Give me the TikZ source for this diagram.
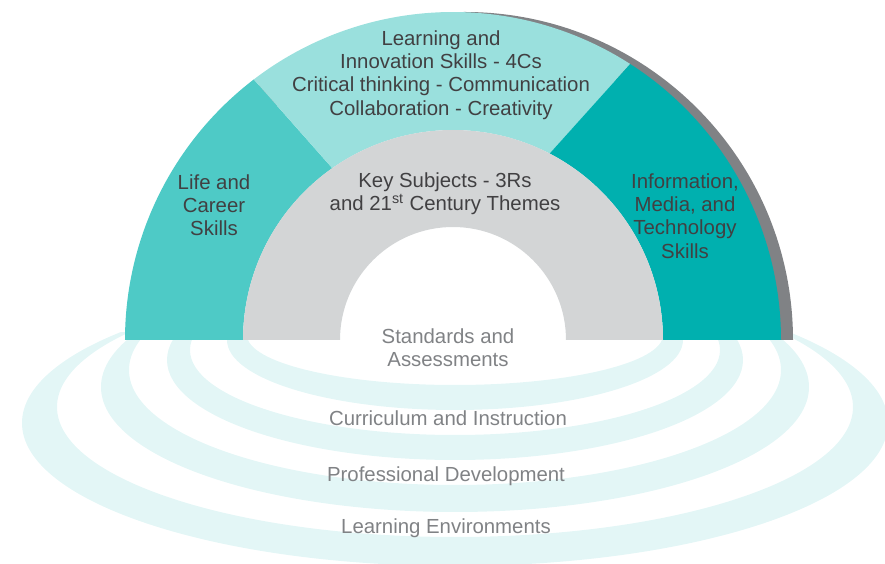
\documentclass[tikz,border=0pt]{standalone}
\usepackage{fontspec}
\setmainfont{Liberation Sans}
\usetikzlibrary{positioning}
\definecolor{lifeteal}{HTML}{4ECAC6}
\definecolor{learnteal}{HTML}{9AE0DD}
\definecolor{infoteal}{HTML}{00B0AF}
\definecolor{keygrey}{HTML}{D3D5D6}
\definecolor{shadowgrey}{HTML}{808285}
\definecolor{ringcyan}{HTML}{E3F6F6}
\definecolor{darktext}{HTML}{414042}
\definecolor{ringtext}{HTML}{808285}
\tikzstyle{ring} = [fill=ringcyan, even odd rule]
\tikzstyle{bandlabel} = [align=center, inner sep=0pt, text=darktext, font=\fontsize{11.6}{13.2}\selectfont]
\tikzstyle{ringlabel} = [align=center, inner sep=0pt, text=ringtext, font=\fontsize{11.6}{13.2}\selectfont]

\begin{document}
\begin{tikzpicture}[x=0.02cm, y=0.02cm]
    \useasboundingbox (-453,-224) rectangle (432,340);

    % rings under the rainbow
    \begin{scope}
      \clip (-460,-230) rectangle (440,7);
      \fill[ring] (2,-83) ellipse [x radius=433, y radius=143] (2,-67) ellipse [x radius=398, y radius=130];
      \fill[ring] (2,-47) ellipse [x radius=354, y radius=125] (2,-30) ellipse [x radius=326, y radius=115];
      \fill[ring] (2,-20) ellipse [x radius=288, y radius=100] (2,-10) ellipse [x radius=265, y radius=85];
      \fill[ring] (2,0) ellipse [x radius=228, y radius=70] (2,5) ellipse [x radius=208, y radius=50];
    \end{scope}

    % rainbow
    \fill[shadowgrey] (340,0) arc [start angle=0, end angle=180, radius=328] -- (-288,0) arc [start angle=180, end angle=0, radius=300] -- cycle;
    \fill[lifeteal] (180:328) arc [start angle=180, end angle=127.4, radius=328] -- (125.1:210) arc [start angle=125.1, end angle=180, radius=210] -- cycle;
    \fill[learnteal] (127.4:328) arc [start angle=127.4, end angle=57.3, radius=328] -- (62.6:210) arc [start angle=62.6, end angle=125.1, radius=210] -- cycle;
    \fill[infoteal] (57.3:328) arc [start angle=57.3, end angle=0, radius=328] -- (0:210) arc [start angle=0, end angle=62.6, radius=210] -- cycle;
    \fill[keygrey] (180:210) arc [start angle=180, end angle=0, radius=210] -- (0:113) arc [start angle=0, end angle=180, radius=113] -- cycle;

    \node (learn) [bandlabel] at (-12,265) {Learning and\\Innovation Skills - 4Cs\\Critical thinking - Communication\\Collaboration - Creativity};
    \node (life) [bandlabel] at (-239,135) {Life and\\Career\\Skills};
    \node (key) [bandlabel] at (-8,146) {Key Subjects - 3Rs\\and 21\textsuperscript{st} Century Themes};
    \node (info) [bandlabel] at (232,124) {Information,\\Media, and\\Technology\\Skills};

    \node (std) [ringlabel] at (-5,-8) {Standards and\\Assessments};
    \node (curr) [ringlabel] at (-5,-78) {Curriculum and Instruction};
    \node (prof) [ringlabel] at (-7,-136) {Professional Development};
    \node (env) [ringlabel] at (-7,-188) {Learning Environments};
  \end{tikzpicture}
\end{document}
